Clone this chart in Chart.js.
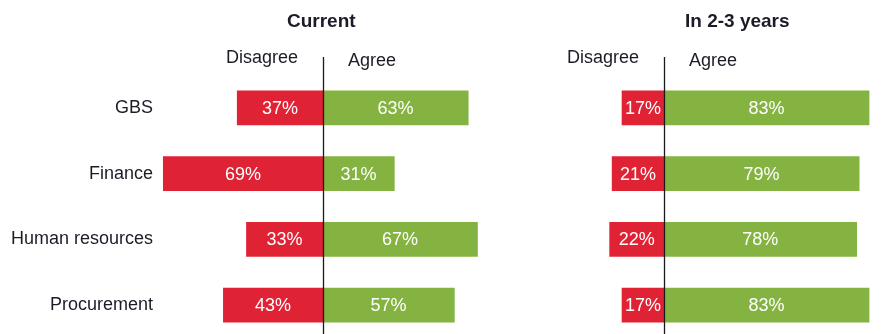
<!DOCTYPE html>
<html>
<head>
<meta charset="utf-8">
<script src="https://cdn.jsdelivr.net/npm/chart.js@4"></script>
<style>
  html, body { margin: 0; padding: 0; background: #fff; overflow: hidden; }
  #wrap { position: relative; width: 882px; height: 334px; overflow: hidden; font-family: "Liberation Sans", Arial, sans-serif; color: #1c1c28; }
  canvas { position: absolute; top: 0; }
  #c-now { left: 0; }
  #c-later { left: 500px; }
  .title { position: absolute; top: 11px; font-size: 19px; font-weight: bold; line-height: 19px; white-space: nowrap; }
  .head { position: absolute; font-size: 18px; line-height: 18px; white-space: nowrap; }
</style>
</head>
<body>
<div id="wrap">
  <canvas id="c-now" width="490" height="340"></canvas>
  <canvas id="c-later" width="382" height="340"></canvas>
  <div class="title" style="left:287px">Current</div>
  <div class="title" style="left:685px">In 2-3 years</div>
  <div class="head" style="left:226px;top:48px">Disagree</div>
  <div class="head" style="left:348px;top:51px">Agree</div>
  <div class="head" style="left:567px;top:48px">Disagree</div>
  <div class="head" style="left:689px;top:51px">Agree</div>
</div>
<script>
// ── Data ───────────────────────────────────────────────
const categories = ['GBS', 'Finance', 'Human resources', 'Procurement'];
const currentDisagree = [37, 69, 33, 43];
const currentAgree = [63, 31, 67, 57];
const laterDisagree = [17, 21, 22, 17];
const laterAgree = [83, 79, 78, 83];

const RED = '#df2335';
const GREEN = '#84b341';
const FONT = '"Liberation Sans", Arial, sans-serif';

// ── Plugins ────────────────────────────────────────────
// centre line at zero, running from under the headers to the bottom
const zeroLine = {
  id: 'zeroLine',
  afterDatasetsDraw(chart) {
    const ctx = chart.ctx;
    const x = Math.round(chart.scales.x.getPixelForValue(0)) + 0.5;
    ctx.save();
    ctx.strokeStyle = '#1a1a1a';
    ctx.lineWidth = 1.3;
    ctx.beginPath();
    ctx.moveTo(x, 57);
    ctx.lineTo(x, chart.height);
    ctx.stroke();
    ctx.restore();
  },
};

// white percent labels centred in each bar
const barLabels = {
  id: 'barLabels',
  afterDatasetsDraw(chart) {
    const ctx = chart.ctx;
    ctx.save();
    ctx.fillStyle = '#ffffff';
    ctx.font = `18px ${FONT}`;
    ctx.textAlign = 'center';
    ctx.textBaseline = 'middle';
    chart.data.datasets.forEach((ds, i) => {
      chart.getDatasetMeta(i).data.forEach((bar, j) => {
        const cx = (bar.x + bar.base) / 2;
        ctx.fillText(Math.abs(ds.data[j]) + '%', cx, bar.y + 1);
      });
    });
    ctx.restore();
  },
};

// ── Charts ─────────────────────────────────────────────
function makeChart(id, disagree, agree, opts) {
  return new Chart(document.getElementById(id), {
    type: 'bar',
    data: {
      labels: categories,
      datasets: [
        { label: 'Disagree', data: disagree.map(v => -v), backgroundColor: RED, barThickness: 34 },
        { label: 'Agree', data: agree, backgroundColor: GREEN, barThickness: 34 },
      ],
    },
    options: {
      indexAxis: 'y',
      responsive: false,
      animation: false,
      layout: { padding: { top: 75, bottom: 2, left: opts.padLeft, right: opts.padRight } },
      plugins: { legend: { display: false }, tooltip: { enabled: false } },
      scales: {
        x: { stacked: true, display: false, min: opts.min, max: opts.max },
        y: opts.showLabels ? {
          stacked: true,
          grid: { display: false, drawTicks: false },
          border: { display: false },
          ticks: { color: '#1c1c28', font: { size: 18, family: FONT }, padding: 8 },
          afterFit(axis) {
            axis.width = 161;
            axis.paddingTop = 0;
            axis.paddingBottom = 0;
          },
        } : { stacked: true, display: false },
      },
    },
    plugins: [zeroLine, barLabels],
  });
}

makeChart('c-now', currentDisagree, currentAgree, { min: -70, max: 70, padLeft: 0, padRight: 5.6, showLabels: true });
makeChart('c-later', laterDisagree, laterAgree, { min: -30, max: 85, padLeft: 89.9, padRight: 8, showLabels: false });
</script>
</body>
</html>
